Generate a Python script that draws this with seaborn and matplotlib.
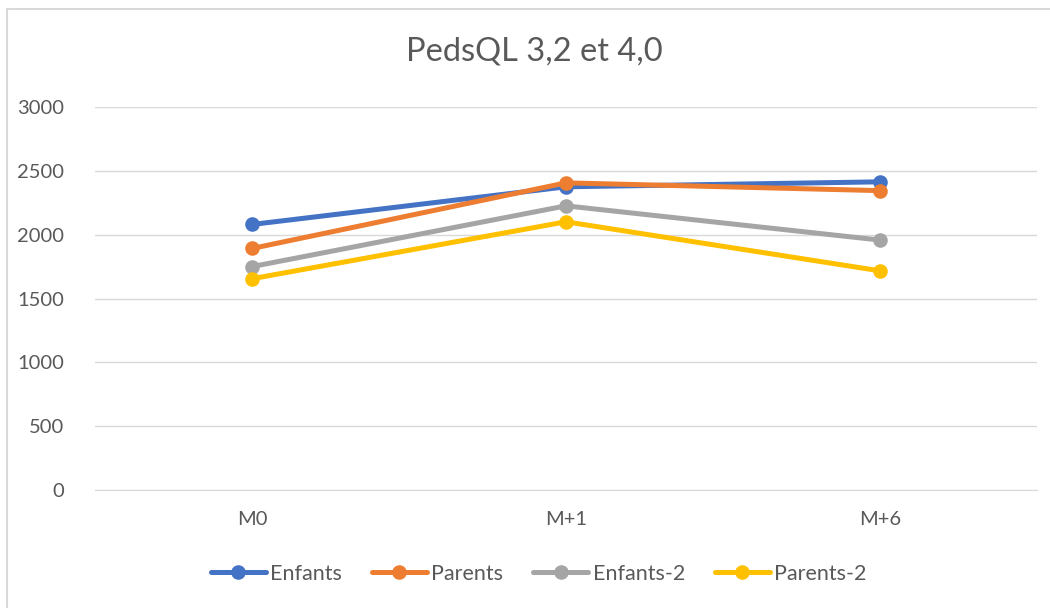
import pandas as pd
import seaborn as sns
import matplotlib.pyplot as plt
from matplotlib.lines import Line2D

# data
periods = ["M0", "M+1", "M+6"]
enfants = [2080, 2375, 2414]
parents = [1892, 2406, 2345]
enfants_2 = [1750, 2226, 1958]
parents_2 = [1655, 2101, 1717]

series_names = ["Enfants", "Parents", "Enfants-2", "Parents-2"]
colors = ["#4472C4", "#ED7D31", "#A5A5A5", "#FFC000"]

df = pd.DataFrame({"Periode": periods * 4,
                   "Score": enfants + parents + enfants_2 + parents_2,
                   "Serie": [s for s in series_names for _ in periods]})
df["x"] = df["Periode"].map({p: i for i, p in enumerate(periods)})

sns.set_style("white")
plt.rcParams["font.family"] = ["Lato", "DejaVu Sans"]

fig = plt.figure(figsize=(10.5, 6.08), dpi=100)
ax = fig.add_axes([0.0905, 0.194, 0.897, 0.63])

sns.lineplot(data=df, x="x", y="Score", hue="Serie", palette=colors,
             marker="o", markersize=10.5, markeredgewidth=0, linewidth=3.6,
             ax=ax, legend=True)

ax.set_xlim(-0.5, 2.5)
ax.set_ylim(0, 3000)
ax.set_yticks(range(0, 3001, 500))
ax.set_xticks(range(len(periods)))
ax.set_xticklabels(periods)
ax.grid(axis="y", color="#D9D9D9", linewidth=1)
ax.set_axisbelow(True)
for s in ["top", "right", "left"]:
    ax.spines[s].set_visible(False)
ax.spines["bottom"].set_color("#D9D9D9")
ax.tick_params(axis="both", length=0, labelsize=14.5, labelcolor="#595959")
ax.tick_params(axis="x", pad=15)
ax.tick_params(axis="y", pad=22)
ax.set_xlabel("")
ax.set_ylabel("")

fig.text(0.509, 0.915, "PedsQL 3,2 et 4,0", ha="center", va="center",
         fontsize=23.5, color="#595959")

handles, labels = ax.get_legend_handles_labels()
ax.legend(handles, labels, loc="center", bbox_to_anchor=(0.513, 0.056),
          bbox_transform=fig.transFigure, ncol=4, frameon=False,
          fontsize=15.5, labelcolor="#595959", handlelength=2.55,
          handletextpad=0.2, columnspacing=1.4)

# chart border, only top and left edges show in the crop
bx, by = 6.5 / 1050, 1 - 8.5 / 608
fig.lines.append(Line2D([bx, bx, 1], [0, by, by], transform=fig.transFigure,
                        color="#D9D9D9", linewidth=1.5))

plt.savefig("out.png", dpi=100)
plt.close()
